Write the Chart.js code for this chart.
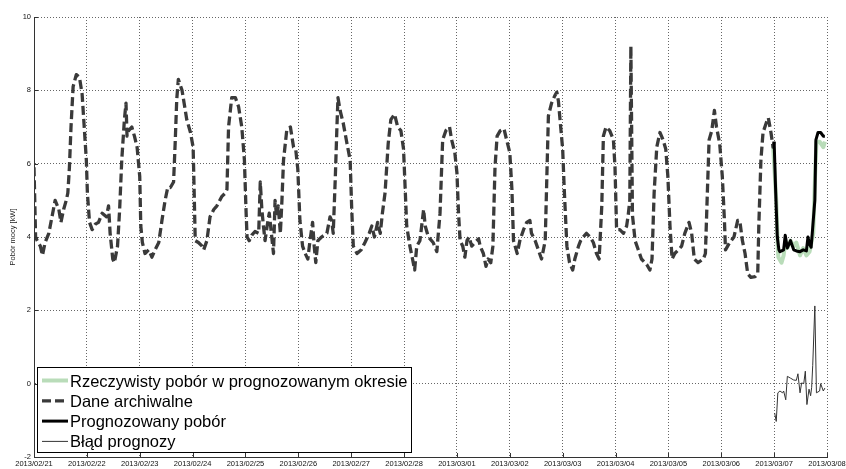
<!DOCTYPE html>
<html>
<head>
<meta charset="utf-8">
<script src="https://cdn.jsdelivr.net/npm/chart.js@4/dist/chart.umd.min.js"></script>
<style>
  html, body { margin: 0; padding: 0; background: #fff; }
  #wrap { width: 846px; height: 469px; }
</style>
</head>
<body>
<div id="wrap"><canvas id="chart" width="846" height="469"></canvas></div>
<script>
  // x = days since 2013/02/21 00:00, y = kW
  const tickLabels = ['2013/02/21', '2013/02/22', '2013/02/23', '2013/02/24', '2013/02/25', '2013/02/26',
    '2013/02/27', '2013/02/28', '2013/03/01', '2013/03/02', '2013/03/03', '2013/03/04',
    '2013/03/05', '2013/03/06', '2013/03/07', '2013/03/08'];

  const archive = [
    [0.00,5.9],[0.03,4.0],[0.06,3.9],[0.12,3.75],[0.16,3.5],[0.21,3.85],[0.28,4.1],[0.34,4.55],[0.40,5.0],[0.47,4.75],
    [0.51,4.4],[0.56,4.75],[0.61,5.0],[0.64,5.2],[0.67,5.9],[0.70,7.0],[0.74,8.1],[0.80,8.43],[0.86,8.35],[0.91,7.9],
    [0.95,7.0],[0.99,6.1],[1.01,5.2],[1.05,4.4],[1.10,4.2],[1.16,4.35],[1.22,4.4],[1.29,4.65],[1.37,4.55],[1.41,4.85],
    [1.44,4.1],[1.49,3.4],[1.52,3.3],[1.58,3.75],[1.62,4.75],[1.66,6.1],[1.71,7.2],[1.74,7.65],[1.76,6.75],[1.79,6.9],
    [1.85,7.0],[1.90,6.75],[1.95,6.45],[2.00,5.65],[2.02,4.3],[2.05,3.85],[2.10,3.55],[2.17,3.65],[2.23,3.45],[2.29,3.65],
    [2.36,3.85],[2.42,4.45],[2.48,5.0],[2.53,5.35],[2.58,5.35],[2.64,5.5],[2.67,6.55],[2.70,7.75],[2.73,8.3],[2.80,8.0],
    [2.84,7.65],[2.89,7.2],[2.96,6.85],[3.01,6.45],[3.03,5.2],[3.05,3.9],[3.11,3.85],[3.18,3.75],[3.21,3.65],[3.27,3.9],
    [3.33,4.55],[3.40,4.75],[3.46,4.85],[3.55,5.1],[3.62,5.2],[3.65,5.3],[3.68,7.0],[3.74,7.8],[3.81,7.8],[3.87,7.55],
    [3.93,7.0],[3.98,6.1],[4.01,4.75],[4.03,4.0],[4.07,3.9],[4.12,4.05],[4.18,4.15],[4.25,4.1],[4.28,5.5],[4.31,4.75],
    [4.34,4.3],[4.37,3.9],[4.41,4.3],[4.45,4.65],[4.49,4.1],[4.53,3.55],[4.56,5.0],[4.59,4.55],[4.62,4.85],[4.66,4.1],
    [4.69,5.0],[4.72,6.1],[4.78,6.9],[4.85,7.0],[4.91,6.45],[4.95,6.4],[4.99,5.85],[5.03,4.45],[5.08,3.75],[5.13,3.55],
    [5.18,3.4],[5.22,3.9],[5.27,4.4],[5.30,3.75],[5.33,3.3],[5.37,3.9],[5.44,4.0],[5.54,4.1],[5.60,4.55],[5.63,4.45],
    [5.66,4.1],[5.70,5.65],[5.73,7.0],[5.75,7.8],[5.79,7.45],[5.85,7.1],[5.92,6.55],[5.98,6.1],[6.01,4.75],[6.04,3.75],
    [6.11,3.55],[6.19,3.65],[6.26,3.85],[6.34,4.1],[6.39,4.3],[6.44,4.0],[6.50,4.4],[6.55,4.1],[6.59,4.65],[6.64,5.2],
    [6.70,6.55],[6.75,7.2],[6.82,7.35],[6.88,7.0],[6.94,6.9],[6.99,6.4],[7.02,5.35],[7.05,4.3],[7.11,3.75],[7.16,3.4],
    [7.20,3.1],[7.24,3.75],[7.30,3.9],[7.37,4.75],[7.40,4.3],[7.46,4.0],[7.55,3.85],[7.62,3.6],[7.68,4.65],[7.73,6.65],
    [7.79,6.9],[7.86,7.0],[7.90,6.65],[7.96,6.3],[8.00,5.75],[8.03,4.65],[8.06,3.9],[8.11,3.75],[8.15,3.45],[8.19,3.9],
    [8.23,4.0],[8.28,3.75],[8.34,3.85],[8.41,3.95],[8.44,3.75],[8.50,3.55],[8.55,3.2],[8.59,3.4],[8.64,3.3],[8.68,3.75],
    [8.72,5.9],[8.76,6.75],[8.82,6.9],[8.89,6.95],[8.94,6.65],[9.00,6.3],[9.04,5.3],[9.07,3.9],[9.10,3.75],[9.14,3.55],
    [9.19,3.9],[9.26,4.2],[9.32,4.4],[9.38,4.45],[9.41,4.1],[9.48,3.9],[9.54,3.65],[9.60,3.4],[9.67,3.9],[9.73,7.3],
    [9.79,7.65],[9.85,7.85],[9.89,7.95],[9.92,7.7],[9.95,7.2],[10.00,6.4],[10.03,5.3],[10.08,3.75],[10.13,3.3],[10.19,3.1],
    [10.23,3.4],[10.30,3.75],[10.34,3.9],[10.39,4.0],[10.45,4.1],[10.52,4.0],[10.58,3.85],[10.64,3.55],[10.69,3.4],[10.74,4.85],
    [10.77,6.75],[10.82,7.0],[10.89,6.9],[10.96,6.65],[10.99,5.9],[11.02,4.2],[11.08,4.2],[11.15,4.1],[11.21,4.3],[11.24,4.6],
    [11.27,5.0],[11.29,9.2],[11.32,4.6],[11.37,3.9],[11.43,3.65],[11.49,3.4],[11.59,3.25],[11.65,3.1],[11.69,3.4],[11.73,5.2],
    [11.78,6.45],[11.84,6.85],[11.90,6.65],[11.95,6.4],[11.99,5.65],[12.03,4.3],[12.07,3.4],[12.12,3.55],[12.19,3.65],[12.25,3.75],
    [12.31,4.1],[12.39,4.4],[12.44,4.1],[12.49,3.4],[12.56,3.3],[12.66,3.4],[12.70,3.55],[12.74,5.35],[12.77,6.65],[12.82,6.9],
    [12.87,7.45],[12.91,7.0],[12.97,6.55],[13.02,5.65],[13.06,4.45],[13.08,3.65],[13.16,3.85],[13.24,4.0],[13.31,4.45],[13.35,4.45],
    [13.40,3.9],[13.45,3.55],[13.50,3.0],[13.56,2.9],[13.64,2.92],[13.69,3.0],[13.71,4.3],[13.75,6.1],[13.79,6.85],[13.86,7.15],
    [13.89,7.25],[13.94,6.85],[13.98,6.45],[14.00,6.6]
  ];

  const actual = [
    [13.98,6.5],[14.04,5.0],[14.07,3.7],[14.08,3.45],[14.14,3.3],[14.18,3.5],[14.21,3.85],[14.25,3.7],[14.31,3.9],[14.37,3.75],
    [14.42,3.85],[14.49,3.5],[14.55,3.7],[14.61,3.5],[14.67,3.6],[14.74,4.1],[14.77,5.5],[14.80,6.6],[14.86,6.6],[14.93,6.45],
    [14.96,6.6]
  ];

  const forecast = [
    [14.00,6.6],[14.03,5.2],[14.06,4.0],[14.09,3.65],[14.11,3.6],[14.18,3.65],[14.21,4.05],[14.25,3.7],[14.31,3.9],[14.37,3.65],
    [14.42,3.62],[14.49,3.6],[14.55,3.65],[14.61,3.62],[14.64,4.0],[14.67,3.8],[14.70,3.72],[14.74,4.45],[14.77,5.0],[14.79,6.65],
    [14.83,6.85],[14.88,6.85],[14.93,6.75],[14.96,6.75]
  ];

  const forecastError = [
    [14.01,-0.8],[14.04,-1.03],[14.07,-0.25],[14.11,-0.2],[14.16,-0.25],[14.18,-0.2],[14.22,-0.44],[14.25,0.2],[14.31,0.15],[14.37,0.1],
    [14.42,0.09],[14.45,0.27],[14.49,-0.25],[14.52,0.02],[14.56,0.0],[14.59,0.34],[14.62,-0.57],[14.66,-0.15],[14.69,-0.33],[14.71,-0.1],
    [14.73,0.5],[14.77,2.12],[14.80,-0.25],[14.86,-0.2],[14.88,0.0],[14.93,-0.2],[14.96,-0.12]
  ];

  const toXY = (pts) => pts.map(p => ({ x: p[0], y: p[1] }));
  const FONT = '"Liberation Sans", Arial, sans-serif';

  // MATLAB-like legend box in the lower left corner + inward tick marks
  const matlabBits = {
    id: 'matlabBits',
    afterDraw(chart) {
      const ctx = chart.ctx;
      const xs = chart.scales.x, ys = chart.scales.y;
      const a = chart.chartArea;
      ctx.save();
      ctx.strokeStyle = '#333';
      ctx.lineWidth = 1;
      ctx.setLineDash([]);
      ctx.beginPath();
      for (let i = 0; i < tickLabels.length; i++) {
        const px = Math.round(xs.getPixelForValue(i)) + 0.5;
        ctx.moveTo(px, a.bottom);
        ctx.lineTo(px, a.bottom - 4);
      }
      for (let v = -2; v <= 10; v += 2) {
        const py = Math.round(ys.getPixelForValue(v)) + 0.5;
        ctx.moveTo(a.left, py);
        ctx.lineTo(a.left + 4, py);
      }
      ctx.stroke();

      // legend
      const bx = 37.5, by = 367.5, bw = 374, bh = 85;
      ctx.fillStyle = '#fff';
      ctx.fillRect(bx, by, bw, bh);
      ctx.strokeStyle = '#000';
      ctx.strokeRect(bx, by, bw, bh);
      ctx.font = '16.5px ' + FONT;
      ctx.textBaseline = 'alphabetic';
      ctx.textAlign = 'left';
      chart.data.datasets.forEach((ds, i) => {
        const cy = 380.5 + i * 20.3;
        ctx.strokeStyle = ds.borderColor;
        ctx.lineWidth = ds.borderWidth;
        ctx.setLineDash(ds.borderDash || []);
        ctx.beginPath();
        ctx.moveTo(42, cy);
        ctx.lineTo(68, cy);
        ctx.stroke();
        ctx.setLineDash([]);
        ctx.fillStyle = '#000';
        ctx.fillText(ds.label, 70, cy + 6);
      });
      ctx.restore();
    }
  };

  new Chart(document.getElementById('chart'), {
    type: 'line',
    data: {
      datasets: [
        {
          label: 'Rzeczywisty pobór w prognozowanym okresie',
          data: toXY(actual),
          borderColor: '#b9dcb9',
          borderWidth: 4,
          order: 3
        },
        {
          label: 'Dane archiwalne',
          data: toXY(archive),
          borderColor: '#3a3a3a',
          borderWidth: 3.3,
          borderDash: [9, 4],
          order: 2
        },
        {
          label: 'Prognozowany pobór',
          data: toXY(forecast),
          borderColor: '#000',
          borderWidth: 3,
          order: 1
        },
        {
          label: 'Błąd prognozy',
          data: toXY(forecastError),
          borderColor: '#333',
          borderWidth: 1,
          order: 0
        }
      ]
    },
    options: {
      responsive: false,
      animation: false,
      events: [],
      elements: {
        point: { radius: 0 },
        line: { tension: 0, fill: false, borderJoinStyle: 'round' }
      },
      layout: { padding: { top: 17, right: 19, left: 0, bottom: 0 } },
      plugins: {
        legend: { display: false },
        tooltip: { enabled: false }
      },
      scales: {
        x: {
          type: 'linear',
          min: 0,
          max: 15,
          afterFit(scale) {
            scale.height = 12;
            scale.paddingLeft = 0;
            scale.paddingRight = 0;
          },
          afterBuildTicks(scale) {
            scale.ticks = tickLabels.map((t, i) => ({ value: i }));
          },
          ticks: {
            autoSkip: false,
            maxRotation: 0,
            padding: 2,
            color: '#111',
            font: { family: FONT, size: 7.5 },
            callback: (v) => tickLabels[v]
          },
          grid: {
            color: '#666',
            lineWidth: 1,
            drawTicks: false
          },
          // in v4 border.dash styles the grid lines, the axis line stays solid
          border: { display: true, color: '#333', width: 1, dash: [1, 2] }
        },
        y: {
          min: -2,
          max: 10,
          afterFit(scale) {
            scale.width = 34;
            scale.paddingTop = 0;
            scale.paddingBottom = 0;
          },
          ticks: {
            stepSize: 2,
            padding: 3,
            color: '#111',
            font: { family: FONT, size: 7.5 }
          },
          grid: {
            color: '#666',
            lineWidth: 1,
            drawTicks: false
          },
          border: { display: true, color: '#333', width: 1, dash: [1, 2] },
          title: {
            display: true,
            text: 'Pobór mocy [kW]',
            color: '#222',
            font: { family: FONT, size: 7.5 },
            padding: { top: 8, bottom: 0 }
          }
        }
      }
    },
    plugins: [matlabBits]
  });
</script>
</body>
</html>
